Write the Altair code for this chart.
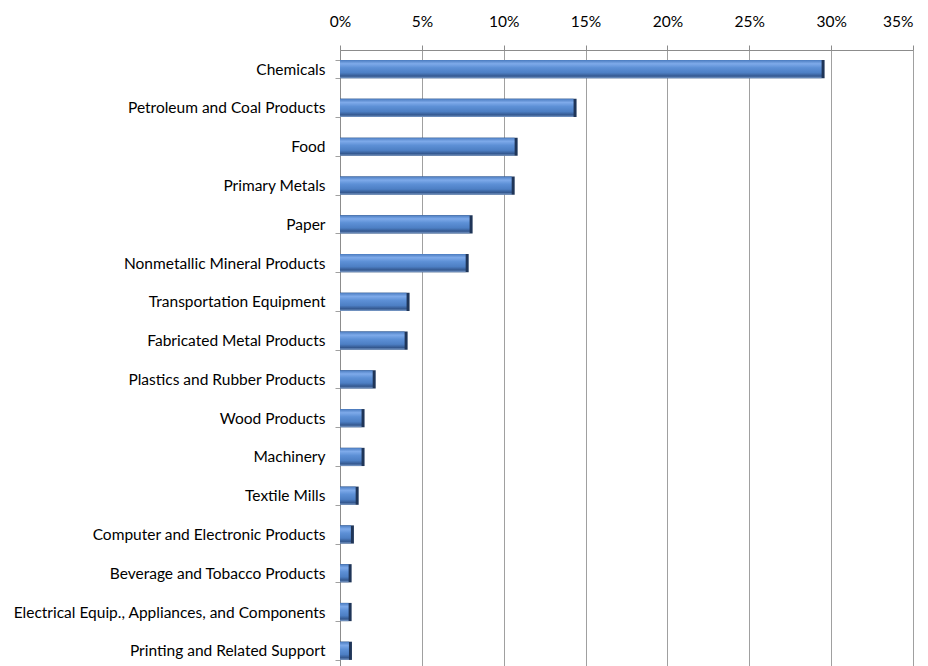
import altair as alt
import pandas as pd

industries = [
    "Chemicals",
    "Petroleum and Coal Products",
    "Food",
    "Primary Metals",
    "Paper",
    "Nonmetallic Mineral Products",
    "Transportation Equipment",
    "Fabricated Metal Products",
    "Plastics and Rubber Products",
    "Wood Products",
    "Machinery",
    "Textile Mills",
    "Computer and Electronic Products",
    "Beverage and Tobacco Products",
    "Electrical Equip., Appliances, and Components",
    "Printing and Related Support",
]
shares = [0.296, 0.1445, 0.1085, 0.1067, 0.081, 0.0786, 0.0425, 0.0413,
          0.0218, 0.015, 0.015, 0.0114, 0.0085, 0.0071, 0.0071, 0.0073]
tick_values = [0, 0.05, 0.10, 0.15, 0.20, 0.25, 0.30, 0.35]

df = pd.DataFrame({"industry": industries, "share": shares})

FONT = "Lato"

x_enc = alt.X(
    "share:Q",
    stack=None,
    scale=alt.Scale(domain=[0, 0.35], nice=False),
    axis=alt.Axis(
        orient="top", format="%", values=tick_values, title=None,
        grid=True, gridColor="#a0a0a0", gridWidth=1,
        domainColor="#8c8c8c", tickColor="#8c8c8c", tickSize=5,
        labelFont=FONT, labelFontSize=15.5, labelColor="#000000",
        labelPadding=16, labelFlush=False, labelOverlap=False,
        labelAlign=alt.expr("datum.value >= 0.349 ? 'right' : 'center'"),
        minExtent=42, maxExtent=42,
    ),
)
y_enc = alt.Y(
    "industry:N",
    sort=industries,
    scale=alt.Scale(paddingInner=0.53, paddingOuter=0.26),
    axis=alt.Axis(
        title=None, tickBand="extent", tickSize=5,
        domainColor="#8c8c8c", tickColor="#a0a0a0",
        labelFont=FONT, labelFontSize=15.5, labelColor="#000000",
        labelPadding=10, minExtent=332, maxExtent=332, labelLimit=400,
    ),
)

base = alt.Chart(df)

dark = base.mark_bar(color="#1f3558").encode(x=x_enc, x2=alt.datum(0), y=y_enc)

grad = alt.Gradient(
    gradient="linear", x1=0, x2=0, y1=0, y2=1,
    stops=[
        alt.GradientStop(color="#4a7bbf", offset=0.0),
        alt.GradientStop(color="#7eaaea", offset=0.2),
        alt.GradientStop(color="#5d90d6", offset=0.42),
        alt.GradientStop(color="#4d7fc4", offset=0.7),
        alt.GradientStop(color="#34588f", offset=0.88),
        alt.GradientStop(color="#7f9fcb", offset=1.0),
    ],
)
face = base.mark_bar(color=grad, xOffset=-3).encode(x=x_enc, x2=alt.datum(0), y=y_enc)

chart = (
    alt.layer(dark, face)
    .properties(width=573, height=620, padding=0)
    .configure_view(stroke=None)
    .configure(background="#ffffff")
)

chart.save("out.html", embed_options={"renderer": "svg", "actions": False})
